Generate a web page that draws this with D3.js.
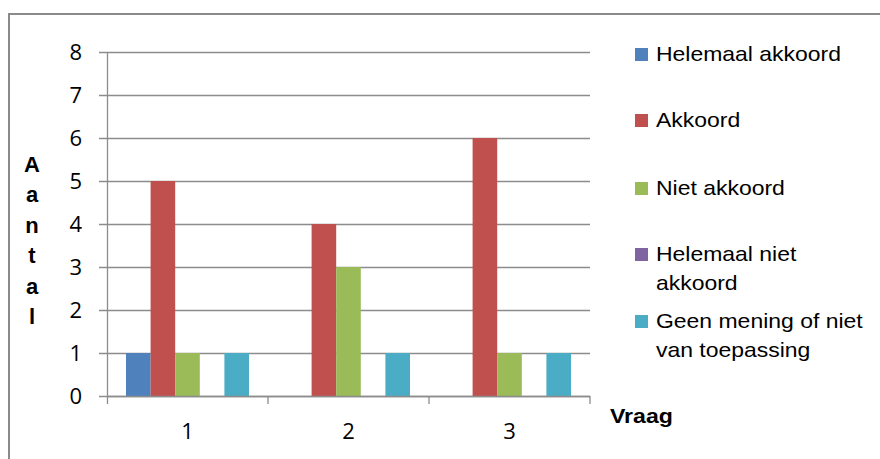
<!DOCTYPE html>
<html>
<head>
<meta charset="utf-8">
<script src="https://cdn.jsdelivr.net/npm/d3@7"></script>
<style>
  html, body { margin: 0; padding: 0; background: #fff; }
  svg { display: block; }
  text { font-family: "Liberation Sans", Arial, sans-serif; fill: #000; }
  .num { font-family: "Open Sans", "Liberation Sans", sans-serif; }
</style>
</head>
<body>
<svg id="chart" width="880" height="459"></svg>
<script>
const categories = ["1", "2", "3"];
const seriesNames = ["Helemaal akkoord", "Akkoord", "Niet akkoord", "Helemaal niet akkoord", "Geen mening of niet van toepassing"];
const legendLines = [["Helemaal akkoord"], ["Akkoord"], ["Niet akkoord"], ["Helemaal niet", "akkoord"], ["Geen mening of niet", "van toepassing"]];
const helemaalAkkoord = [1, 0, 0];
const akkoord = [5, 4, 6];
const nietAkkoord = [1, 3, 1];
const helemaalNietAkkoord = [0, 0, 0];
const geenMening = [1, 1, 1];
const yTicks = [0, 1, 2, 3, 4, 5, 6, 7, 8];
const colors = ["#4F81BD", "#C0504D", "#9BBB59", "#8064A2", "#4BACC6"];
const yTitle = "Aantal";
const xTitle = "Vraag";

const seriesValues = [helemaalAkkoord, akkoord, nietAkkoord, helemaalNietAkkoord, geenMening];

const svg = d3.select("#chart");
const plot = { left: 107, right: 590, top: 52, bottom: 396 };

// outer border
svg.append("path")
  .attr("d", "M9,470 V14 H885")
  .attr("fill", "none").attr("stroke", "#8a8a8a").attr("stroke-width", 2);

const x0 = d3.scaleBand().domain(categories).range([plot.left, plot.right]).paddingInner(0).paddingOuter(0);
const groupPad = 19;
const x1 = d3.scaleBand().domain(d3.range(seriesNames.length))
  .range([groupPad, x0.bandwidth() - groupPad]).padding(0);
const y = d3.scaleLinear().domain([0, 8]).range([plot.bottom, plot.top]);

// gridlines
svg.append("g").selectAll("line").data(yTicks).join("line")
  .attr("x1", plot.left - 8).attr("x2", plot.right)
  .attr("y1", d => y(d) + 0.5).attr("y2", d => y(d) + 0.5)
  .attr("stroke", "#8c8c8c").attr("stroke-width", 1.3);

// y axis line
svg.append("line").attr("x1", plot.left + 0.5).attr("x2", plot.left + 0.5)
  .attr("y1", plot.top).attr("y2", plot.bottom + 8)
  .attr("stroke", "#8c8c8c").attr("stroke-width", 1.3);

// x boundary ticks
const bounds = categories.map(c => x0(c) + x0.bandwidth());
svg.append("g").selectAll("line").data(bounds).join("line")
  .attr("x1", d => d).attr("x2", d => d)
  .attr("y1", plot.bottom).attr("y2", plot.bottom + 8)
  .attr("stroke", "#8c8c8c").attr("stroke-width", 1.3);

// bars
const gBars = svg.append("g");
seriesValues.forEach((vals, si) => {
  gBars.selectAll(null).data(vals).join("rect")
    .attr("x", (d, i) => x0(categories[i]) + x1(si))
    .attr("width", x1.bandwidth())
    .attr("y", d => y(d))
    .attr("height", d => y(0) - y(d))
    .attr("fill", colors[si]);
});

// x axis line on top of bars
svg.append("line").attr("x1", plot.left).attr("x2", plot.right)
  .attr("y1", plot.bottom + 0.5).attr("y2", plot.bottom + 0.5)
  .attr("stroke", "#8c8c8c").attr("stroke-width", 1.3);

// y tick labels
svg.append("g").selectAll("text").data(yTicks).join("text")
  .attr("class", "num")
  .attr("x", 82).attr("y", d => y(d) + 8)
  .attr("text-anchor", "end").attr("font-size", 22)
  .text(d => d);

// x tick labels
svg.append("g").selectAll("text").data(categories).join("text")
  .attr("class", "num")
  .attr("x", d => x0(d) + x0.bandwidth() / 2).attr("y", 439)
  .attr("text-anchor", "middle").attr("font-size", 22)
  .text(d => d);

// y title stacked letters
svg.append("g").selectAll("text").data(yTitle.split("")).join("text")
  .attr("x", 32).attr("y", (d, i) => 172 + i * 30.4)
  .attr("text-anchor", "middle").attr("font-size", 22).attr("font-weight", "bold")
  .text(d => d);

// x title
svg.append("text")
  .attr("transform", "translate(610,423) scale(1.1,1)")
  .attr("font-size", 21).attr("font-weight", "bold")
  .text(xTitle);

// legend
const legendSquareY = [48, 114, 182, 248, 315];
const lg = svg.append("g");
legendLines.forEach((lines, i) => {
  lg.append("rect").attr("x", 635).attr("y", legendSquareY[i]).attr("width", 13).attr("height", 13)
    .attr("fill", colors[i]);
  lines.forEach((ln, j) => {
    lg.append("text")
      .attr("transform", `translate(656,${legendSquareY[i] + 13 + j * 28.5}) scale(1.12,1)`)
      .attr("font-size", 20.5)
      .text(ln);
  });
});
</script>
</body>
</html>
